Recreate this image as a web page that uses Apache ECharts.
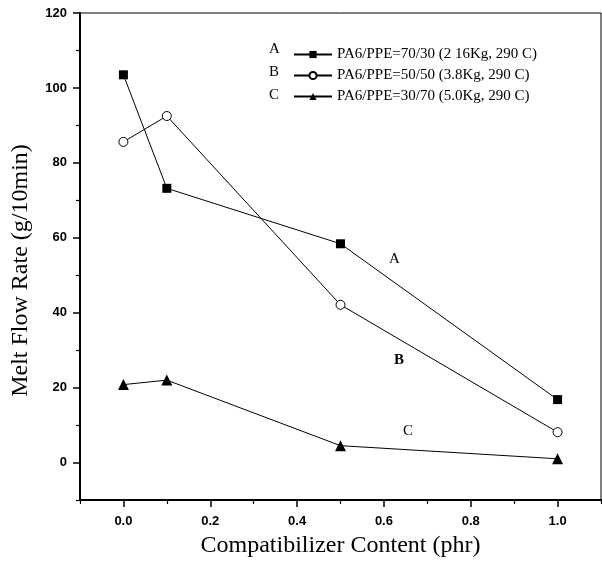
<!DOCTYPE html>
<html><head><meta charset="utf-8">
<script src="https://cdn.jsdelivr.net/npm/echarts@6/dist/echarts.min.js"></script>
<style>html,body{margin:0;padding:0;background:#fff}#c{width:602px;height:571px}</style>
</head><body><div id="c"></div>
<script>
const xValues = [0.0, 0.1, 0.5, 1.0];
const seriesA = [103.5, 73.2, 58.4, 16.8];
const seriesB = [85.6, 92.5, 42.1, 8.1];
const seriesC = [20.8, 22.0, 4.5, 1.0];
const seriesNames = ['PA6/PPE=70/30 (2 16Kg, 290 C)', 'PA6/PPE=50/50 (3.8Kg, 290 C)', 'PA6/PPE=30/70 (5.0Kg, 290 C)'];
const legendLetters = ['A', 'B', 'C'];
const yTickLabels = [0, 20, 40, 60, 80, 100, 120];
const yMinorTicks = [-10, 10, 30, 50, 70, 90, 110];
const xTickLabels = [0.0, 0.2, 0.4, 0.6, 0.8, 1.0];
const xMinorTicks = [-0.1, 0.1, 0.3, 0.5, 0.7, 0.9, 1.1];

const pair = arr => xValues.map((x, i) => [x, arr[i]]);
const serif = '"Liberation Serif", "DejaVu Serif", serif';
const sans = '"Liberation Sans", Arial, sans-serif';

const chart = echarts.init(document.getElementById('c'));
const lineCommon = { type: 'line', lineStyle: { color: '#000', width: 1 }, z: 3 };
chart.setOption({
  animation: false,
  grid: [{ left: 80, right: 1, top: 13, bottom: 71, show: true, borderColor: '#000', borderWidth: 1 }],
  xAxis: [{
    type: 'value', min: -0.1, max: 1.1,
    axisLine: { show: true, onZero: false, lineStyle: { color: '#000', width: 2 } },
    axisTick: { show: true, inside: false, length: 7, customValues: xTickLabels, lineStyle: { color: '#000', width: 1.5 } },
    axisLabel: { customValues: xTickLabels, formatter: v => v.toFixed(1), color: '#000', fontFamily: sans, fontWeight: 'bold', fontSize: 13, margin: 15 },
    splitLine: { show: false },
    name: 'Compatibilizer Content (phr)', nameLocation: 'middle', nameGap: 34,
    nameTextStyle: { fontFamily: serif, fontSize: 24, color: '#000' }
  }, {
    type: 'value', min: -0.1, max: 1.1, position: 'bottom',
    axisLine: { show: false, onZero: false },
    axisTick: { show: true, length: 4, customValues: xMinorTicks, lineStyle: { color: '#000', width: 1.2 } },
    axisLabel: { show: false }, splitLine: { show: false }
  }],
  yAxis: [{
    type: 'value', min: -10, max: 120,
    axisLine: { show: true, onZero: false, lineStyle: { color: '#000', width: 2 } },
    axisTick: { show: true, inside: false, length: 7, customValues: yTickLabels, lineStyle: { color: '#000', width: 1.5 } },
    axisLabel: { customValues: yTickLabels, color: '#000', fontFamily: sans, fontWeight: 'bold', fontSize: 13, margin: 13 },
    splitLine: { show: false },
    name: 'Melt Flow Rate (g/10min)', nameLocation: 'middle', nameGap: 47, nameRotate: 90,
    nameTextStyle: { fontFamily: serif, fontSize: 24, color: '#000', padding: [0, 28, 0, 0] }
  }, {
    type: 'value', min: -10, max: 120, position: 'left',
    axisLine: { show: false, onZero: false },
    axisTick: { show: true, length: 4, customValues: yMinorTicks, lineStyle: { color: '#000', width: 1.2 } },
    axisLabel: { show: false }, splitLine: { show: false }
  }],
  legend: {
    orient: 'vertical', left: 288, top: 42, itemGap: 6, itemWidth: 38, itemHeight: 9,
    textStyle: { fontFamily: serif, fontSize: 15, color: '#000' },
    data: seriesNames
  },
  graphic: legendLetters.map((t, i) => ({
    type: 'text', left: 269, top: 42 + i * 23,
    style: { text: t, font: '15px ' + serif, fill: '#000' }
  })).concat([
    { type: 'text', x: 389, y: 252, style: { text: 'A', font: '15px ' + serif, fill: '#000' } },
    { type: 'text', x: 394, y: 353, style: { text: 'B', font: 'bold 15px ' + serif, fill: '#000' } },
    { type: 'text', x: 403, y: 424, style: { text: 'C', font: '15px ' + serif, fill: '#000' } }
  ]),
  series: [
    Object.assign({}, lineCommon, { name: seriesNames[0], data: pair(seriesA), symbol: 'rect', symbolSize: 9, itemStyle: { color: '#000' } }),
    Object.assign({}, lineCommon, { name: seriesNames[1], data: pair(seriesB), symbol: 'circle', symbolSize: 9, itemStyle: { color: '#fff', borderColor: '#000', borderWidth: 1 } }),
    Object.assign({}, lineCommon, { name: seriesNames[2], data: pair(seriesC), symbol: 'triangle', symbolSize: 11, itemStyle: { color: '#000' } })
  ]
});
</script></body></html>
